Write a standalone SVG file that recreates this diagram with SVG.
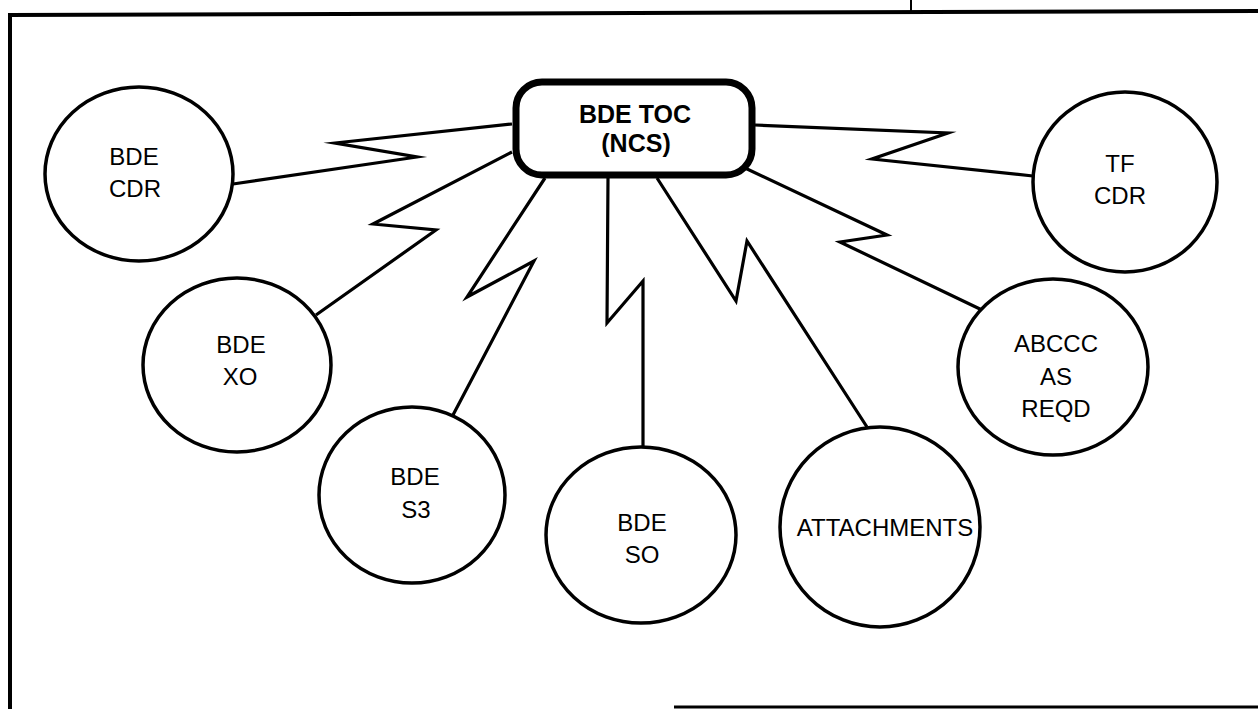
<svg xmlns="http://www.w3.org/2000/svg" width="1258" height="709" viewBox="0 0 1258 709">
<style>
.frame{fill:none;stroke:#000;stroke-width:4}
.node{fill:#fff;stroke:#000;stroke-width:3.5}
.hub{fill:#fff;stroke:#000;stroke-width:7}
.link{fill:none;stroke:#000;stroke-width:3.2;stroke-linejoin:miter;stroke-miterlimit:20}
.lbl{font-family:"Liberation Sans",Arial,sans-serif;font-size:24px;fill:#000;text-anchor:middle}
.hlbl{font-family:"Liberation Sans",Arial,sans-serif;font-size:25px;font-weight:bold;fill:#000;text-anchor:middle}
</style>
<rect width="1258" height="709" fill="#fff"/>
<g id="frame">
<line class="frame" x1="8" y1="15" x2="1258" y2="11"/>
<line class="frame" x1="10" y1="13" x2="10" y2="709"/>
<line class="frame" x1="674" y1="707" x2="1258" y2="707" style="stroke-width:3"/>
<line class="frame" x1="911" y1="0" x2="911" y2="13" style="stroke-width:2"/>
</g>
<g id="connectors">
<polyline class="link" points="512,124 335,143 417,157 233,184"/>
<polyline class="link" points="512,152 373,224 436,230 316,315"/>
<polyline class="link" points="545,178 467,297 534,261 453,415"/>
<polyline class="link" points="608,178 607,323 643,281 643,448"/>
<polyline class="link" points="657,178 736,301 747,241 867,427"/>
<polyline class="link" points="745,168 887,235 840,242 982,310"/>
<polyline class="link" points="755,125 948,133 872,159 1033,176"/>
</g>
<g id="hub">
<rect class="hub" x="516" y="82" width="236" height="93" rx="26"/>
<text class="hlbl" x="635" y="123">BDE TOC</text>
<text class="hlbl" x="636" y="152">(NCS)</text>
</g>
<g id="bde-cdr">
<ellipse class="node" cx="139" cy="174" rx="94" ry="87"/>
<text class="lbl" x="134" y="165">BDE</text>
<text class="lbl" x="135" y="197">CDR</text>
</g>
<g id="bde-xo">
<ellipse class="node" cx="237" cy="365" rx="94" ry="87"/>
<text class="lbl" x="241" y="353">BDE</text>
<text class="lbl" x="240" y="385">XO</text>
</g>
<g id="bde-s3">
<ellipse class="node" cx="412" cy="495" rx="93" ry="88"/>
<text class="lbl" x="415" y="485">BDE</text>
<text class="lbl" x="416" y="518">S3</text>
</g>
<g id="bde-so">
<ellipse class="node" cx="641" cy="535" rx="95" ry="88"/>
<text class="lbl" x="642" y="531">BDE</text>
<text class="lbl" x="642" y="563">SO</text>
</g>
<g id="attachments">
<ellipse class="node" cx="880" cy="527" rx="100" ry="100"/>
<text class="lbl" x="885" y="536">ATTACHMENTS</text>
</g>
<g id="abccc">
<ellipse class="node" cx="1053" cy="367" rx="95" ry="88"/>
<text class="lbl" x="1056" y="352">ABCCC</text>
<text class="lbl" x="1056" y="385">AS</text>
<text class="lbl" x="1056" y="417">REQD</text>
</g>
<g id="tf-cdr">
<ellipse class="node" cx="1125" cy="182" rx="92" ry="90"/>
<text class="lbl" x="1120" y="172">TF</text>
<text class="lbl" x="1120" y="204">CDR</text>
</g>
</svg>
